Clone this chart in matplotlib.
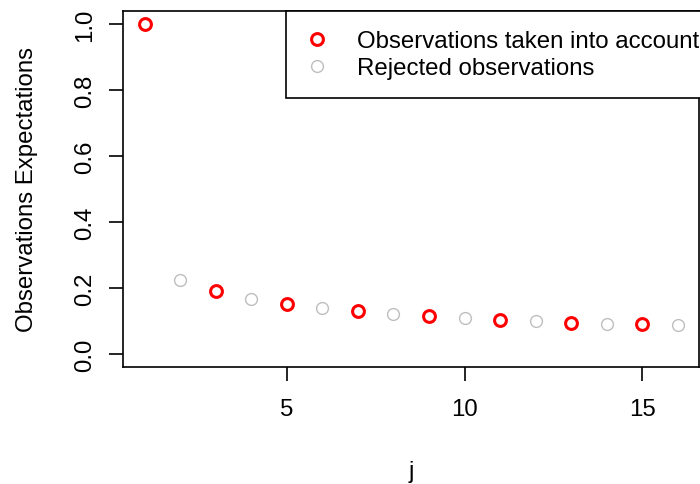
import numpy as np
import matplotlib.pyplot as plt
#----------------------------------------------------------
plt.rcParams['font.family'] = ['Liberation Sans', 'DejaVu Sans']

# values
j_all = list(range(1, 17))
expect = [1.000, 0.225, 0.190, 0.167, 0.151, 0.139, 0.130, 0.122,
          0.115, 0.109, 0.103, 0.099, 0.094, 0.092, 0.090, 0.087]
kept_j = [1, 3, 5, 7, 9, 11, 13, 15]
rej_j = [2, 4, 6, 8, 10, 12, 14, 16]
xticks = [5, 10, 15]
yticks = [0.0, 0.2, 0.4, 0.6, 0.8, 1.0]
#----------------------------------------------------------
kept_y = [expect[j - 1] for j in kept_j]
rej_y = [expect[j - 1] for j in rej_j]

fs = 17.3
fig = plt.figure(figsize=(7, 4.85), dpi=100)
ax = fig.add_axes([0.1764, 0.2412, 0.8222, 0.7341])

ax.plot(kept_j, kept_y, 'o', ms=8.5, mfc='none', mec='#ff0000', mew=2.2,
        label='Observations taken into account')
ax.plot(rej_j, rej_y, 'o', ms=8.5, mfc='none', mec='#bebebe', mew=1.0,
        label='Rejected observations')

ax.set_xlim(0.4, 16.6)
ax.set_ylim(-0.04, 1.04)
ax.set_xticks(xticks)
ax.set_yticks(yticks)
ax.set_yticklabels(['%.1f' % v for v in yticks], rotation=90, va='center')
ax.tick_params(direction='out', length=10, width=1.2, labelsize=fs, pad=10, colors='black')
ax.tick_params(axis='x', pad=12)
for s in ax.spines.values():
	s.set_linewidth(1.2)

ax.set_xlabel('j', fontsize=fs, labelpad=29)
ax.set_ylabel('Observations Expectations', fontsize=fs, labelpad=26)

leg = ax.legend(loc='upper left', bbox_to_anchor=(0.2825, 1.0), borderaxespad=0,
                fancybox=False, edgecolor='black', fontsize=fs, frameon=True,
                handletextpad=1.15, borderpad=0.8, labelspacing=0.2,
                handlelength=1.0, markerscale=1.0)
leg.get_frame().set_linewidth(1.2)
leg.get_frame().set_alpha(1)

fig.savefig('out.png', dpi=100)
